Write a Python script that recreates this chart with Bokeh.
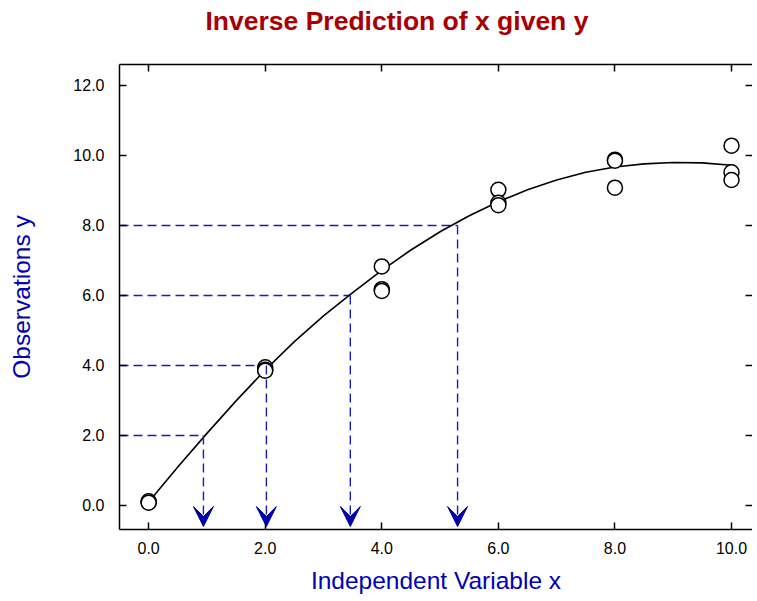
from bokeh.plotting import figure
from bokeh.models import (LinearAxis, Range1d, Arrow, VeeHead, ColumnDataSource,
                          FixedTicker, NumeralTickFormatter)
from bokeh.embed import file_html
from bokeh.resources import INLINE

# ---- data -------------------------------------------------------------
x_obs = [0, 0, 0, 2, 2, 2, 4, 4, 4, 6, 6, 6, 8, 8, 8, 10, 10, 10]
y_obs = [0.10, 0.12, 0.08, 3.95, 3.88, 3.85, 6.83, 6.18, 6.13,
         9.02, 8.65, 8.58, 9.88, 9.08, 9.85, 10.28, 9.52, 9.30]

# fitted curve
x_fit = [0, 0.5, 1.0, 1.5, 2.0, 2.5, 3.0, 3.5, 4.0, 4.5, 5.0,
         5.5, 6.0, 6.5, 7.0, 7.5, 8.0, 8.5, 9.0, 9.5, 10.0]
y_fit = [0.10, 1.10, 2.06, 2.99, 3.87, 4.68, 5.42, 6.08, 6.72, 7.30, 7.82,
         8.28, 8.68, 9.02, 9.30, 9.52, 9.67, 9.76, 9.80, 9.79, 9.72]

# inverse predictions
y_given = [2.0, 4.0, 6.0, 8.0]
x_pred = [0.94, 2.02, 3.46, 5.30]

x_ticks = [0, 2, 4, 6, 8, 10]
y_ticks = [0, 2, 4, 6, 8, 10, 12]

X_LO, X_HI = -0.5, 10.36
Y_LO, Y_HI = -0.686, 12.6
ARROW_TIP = -0.6

FONT = "Liberation Sans"
BLUE_TXT = "#0000B4"
BLUE_LINE = "#1A1ABC"
BLUE_HEAD = "#0000A8"

p = figure(width=752, height=600, x_range=Range1d(X_LO, X_HI),
           y_range=Range1d(Y_LO, Y_HI), output_backend="svg",
           toolbar_location=None, min_border_left=119, min_border_right=0,
           min_border_top=64, min_border_bottom=71)
p.xgrid.visible = False
p.ygrid.visible = False
p.outline_line_color = None
p.background_fill_color = "white"
p.border_fill_color = "white"

p.title.text = "Inverse Prediction of x given y"
p.title.text_font = FONT
p.title.text_font_size = "26.5px"
p.title.text_font_style = "bold"
p.title.text_color = "#A80000"
p.title.align = "left"
p.title.offset = 86
p.title.standoff = 4

# bottom / left
xa = p.xaxis[0]
ya = p.yaxis[0]
for ax, ticks in ((xa, x_ticks), (ya, y_ticks)):
    ax.ticker = FixedTicker(ticks=ticks)
    ax.formatter = NumeralTickFormatter(format="0.0")
    ax.axis_line_color = "black"
    ax.axis_line_width = 1.5
    ax.major_tick_in = 7
    ax.major_tick_out = 0
    ax.major_tick_line_width = 1.5
    ax.minor_tick_line_color = None
    ax.major_label_text_font = FONT
    ax.major_label_text_font_size = "16px"
    ax.major_label_text_color = "black"
    ax.axis_label_text_font = FONT
    ax.axis_label_text_font_size = "24.5px"
    ax.axis_label_text_font_style = "normal"
    ax.axis_label_text_color = BLUE_TXT
xa.major_label_standoff = 12
ya.major_label_standoff = 15
xa.axis_label = "Independent Variable x"
ya.axis_label = "Observations y"
xa.axis_label_standoff = 10
ya.axis_label_standoff = 35

# top / right (ticks only)
top = LinearAxis()
right = LinearAxis()
p.add_layout(top, "above")
p.add_layout(right, "right")
for ax, ticks in ((top, x_ticks), (right, y_ticks)):
    ax.ticker = FixedTicker(ticks=ticks)
    ax.axis_line_color = "black"
    ax.axis_line_width = 1.5
    ax.major_tick_in = 7
    ax.major_tick_out = 0
    ax.major_tick_line_width = 1.5
    ax.minor_tick_line_color = None
    ax.major_label_text_font_size = "0px"
    ax.major_label_text_color = None
    ax.major_label_standoff = 0
right.axis_line_color = None
# spacer between the title and the frame
top.axis_label = " "
top.axis_label_text_font_size = "1px"
top.axis_label_text_color = None
top.axis_label_standoff = 23

# dashed guide lines
src = ColumnDataSource(dict(x0=[X_LO] * len(y_given), y=y_given, xp=x_pred,
                            ytip=[ARROW_TIP] * len(y_given)))
p.segment(x0="x0", y0="y", x1="xp", y1="y", source=src, line_color=BLUE_LINE,
          line_width=1.4, line_dash="9 5")
p.add_layout(Arrow(end=VeeHead(size=20, fill_color=BLUE_HEAD, line_color=BLUE_HEAD,
                               line_width=1),
                   x_start="xp", y_start="y", x_end="xp", y_end="ytip",
                   source=src, line_color=BLUE_LINE, line_width=1.4,
                   line_dash="9 5"))

# fitted curve and observations
p.line(x_fit, y_fit, line_color="black", line_width=1.6)
p.scatter(x_obs, y_obs, size=15, fill_color="white", line_color="black",
          line_width=1.5)

open("out.html", "w").write(file_html(p, INLINE))
